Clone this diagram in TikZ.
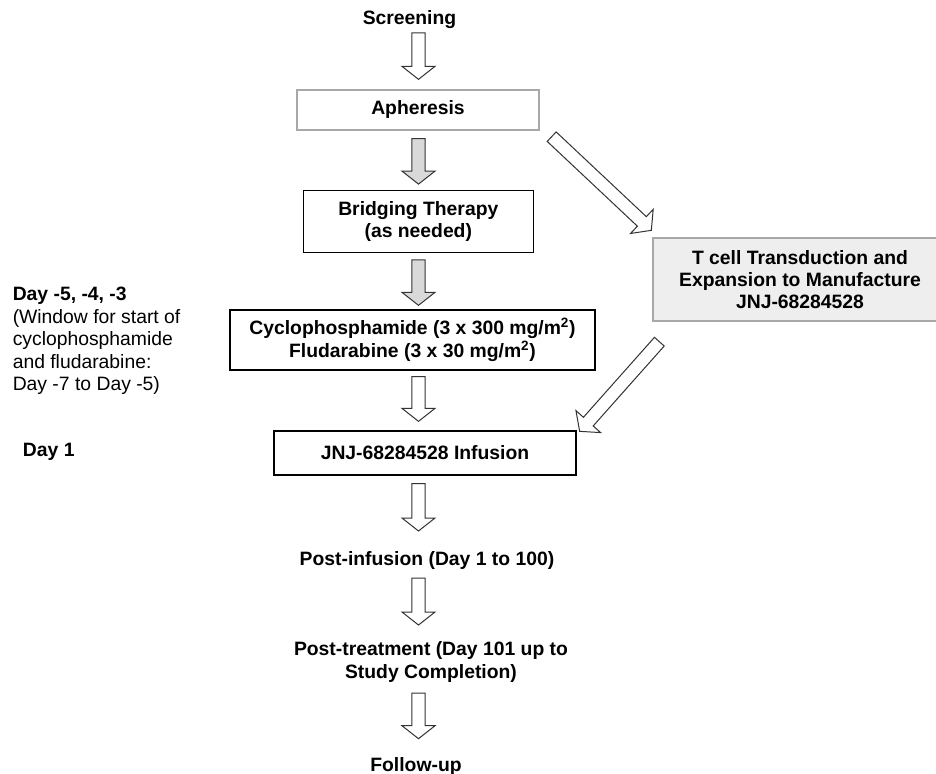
\documentclass[tikz,border=0pt]{standalone}
\usepackage{fontspec}
\setmainfont{Liberation Sans}
\usepackage{tikz}
\usetikzlibrary{calc}

\definecolor{boxgray}{HTML}{EEEEEE}
\definecolor{edgegray}{HTML}{A8A8A8}
\definecolor{arrowgray}{HTML}{D9D9D9}

\tikzset{
  txt/.style={inner sep=0pt,font=\fontsize{14.5}{16.8}\selectfont\bfseries,align=center},
  box/.style={txt,draw,line width=1pt},
  blockline/.style={draw=black!80,line width=0.75pt,line join=miter}
}

% block arrow: #1 fill, #2 tail, #3 tip
\newcommand{\blockarrow}[3]{%
  \coordinate (ba-s) at (#2);
  \coordinate (ba-t) at (#3);
  \coordinate (ba-h) at ($(ba-t)!9.75pt!(ba-s)$);
  \draw[blockline,fill=#1] ($(ba-s)!4.9pt!90:(ba-t)$) -- ($(ba-h)!4.9pt!-90:(ba-s)$)
    -- ($(ba-h)!12.4pt!-90:(ba-s)$) -- (ba-t) -- ($(ba-h)!12.4pt!90:(ba-s)$)
    -- ($(ba-h)!4.9pt!90:(ba-s)$) -- ($(ba-s)!4.9pt!-90:(ba-t)$) -- cycle;
}

\begin{document}
\begin{tikzpicture}[x=0.75pt,y=-0.75pt]
  \useasboundingbox (0,0) rectangle (936,774);
  \clip (0,0) rectangle (936,774);
  \coordinate (axis) at (418.5,0);

  \node[txt,anchor=base] (screen) at (409.5,25) {Screening};
  \node[box,draw=edgegray,minimum width=181.5pt,minimum height=30pt] (apher) at (418,110) {Apheresis};
  \node[box,minimum width=172.5pt,minimum height=46.1pt] (bridge) at (418.3,221.5) {Bridging Therapy\\(as needed)};
  \node[box,minimum width=273.75pt,minimum height=45pt] (cyclo) at (412.5,340)
    {Cyclophosphamide (3 x 300 mg/m\textsuperscript{2})\\Fludarabine (3 x 30 mg/m\textsuperscript{2})};
  \node[box,minimum width=226.5pt,minimum height=33pt] (infus) at (425,453) {JNJ-68284528 Infusion};
  \node[box,draw=edgegray,fill=boxgray,minimum width=220.5pt,minimum height=62.25pt] (tcell) at (800,279.5)
    {T cell Transduction and\\Expansion to Manufacture\\JNJ-68284528};
  \node[txt,anchor=base] (postinf) at (427,565) {Post-infusion (Day 1 to 100)};
  \node[txt] (posttreat) at (431,662) {Post-treatment (Day 101 up to\\Study Completion)};
  \node[txt,anchor=base] (follow) at (416,771.7) {Follow-up};

  \node[txt,anchor=north west,align=left,font=\fontsize{14.5}{16.9}\selectfont] (window) at (12.5,287)
    {\textbf{Day -5, -4, -3}\\(Window for start of\\cyclophosphamide\\and fludarabine:\\Day -7 to Day -5)};
  \node[txt,anchor=base west] (day1) at (22.7,456.7) {Day 1};

  \blockarrow{white}{$(screen.base -| axis)+(0,8)$}{$(apher.north -| axis)+(0,-10)$}
  \blockarrow{arrowgray}{$(apher.south -| axis)+(0,8)$}{$(bridge.north -| axis)+(0,-6)$}
  \blockarrow{arrowgray}{$(bridge.south -| axis)+(0,7)$}{$(cyclo.north -| axis)+(0,-4)$}
  \blockarrow{white}{$(cyclo.south -| axis)+(0,6)$}{$(infus.north -| axis)+(0,-9)$}
  \blockarrow{white}{$(infus.south -| axis)+(0,8)$}{$(postinf.base -| axis)+(0,-34)$}
  \blockarrow{white}{$(postinf.base -| axis)+(0,13)$}{$(posttreat.center -| axis)+(0,-37)$}
  \blockarrow{white}{$(posttreat.center -| axis)+(0,31)$}{$(follow.base -| axis)+(0,-33)$}
  \blockarrow{white}{$(apher.south east)+(12,6)$}{$(tcell.north west)+(-1,-7)$}
  \blockarrow{white}{$(tcell.south west)+(7,20)$}{$(infus.north east)+(3,1)$}
\end{tikzpicture}
\end{document}
